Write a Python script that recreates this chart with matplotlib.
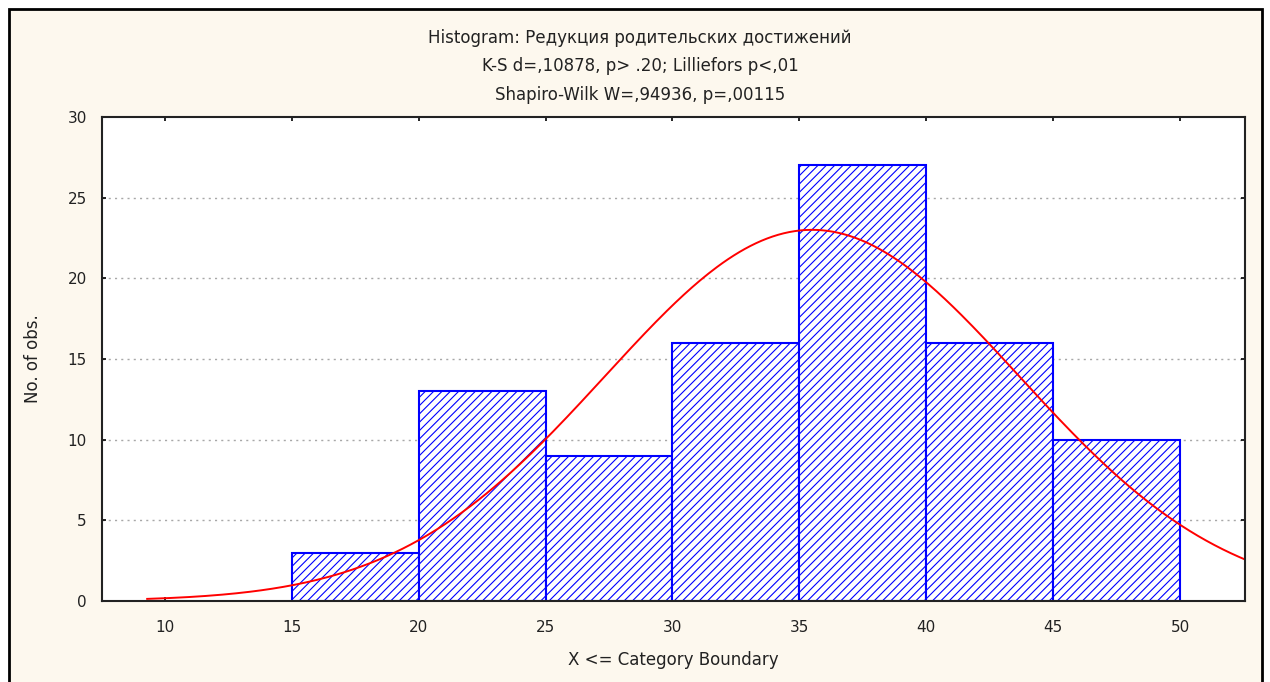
import numpy as np
import matplotlib
matplotlib.use("Agg")
import matplotlib.pyplot as plt
from matplotlib.patches import Rectangle

# ---- data ----
bin_edges = [15, 20, 25, 30, 35, 40, 45, 50]
counts = [3, 13, 9, 16, 27, 16, 10]
fit_mean = 35.5
fit_sd = 8.15
curve_start = 9.3
x_ticks = [10, 15, 20, 25, 30, 35, 40, 45, 50]
y_ticks = [0, 5, 10, 15, 20, 25, 30]
title_lines = [
    "Histogram: Редукция родительских достижений",
    "K-S d=,10878, p> .20; Lilliefors p<,01",
    "Shapiro-Wilk W=,94936, p=,00115",
]
x_label = "X <= Category Boundary"
y_label = "No. of obs."

# ---- font ----
plt.rcParams["font.family"] = ["DejaVu Sans"]
plt.rcParams["hatch.linewidth"] = 0.8
plt.rcParams["hatch.color"] = "#0000ff"

FS = 11
FS_T = 12
TXT = "#222222"
W, H = 1270, 682
fig = plt.figure(figsize=(W / 100, H / 100), dpi=100, facecolor="white")

# outer cream panel with black frame
panel = Rectangle((9 / W, -0.05), (1262 - 9) / W, 1 - 9 / H + 0.05,
                  transform=fig.transFigure, facecolor="#fdf8ee",
                  edgecolor="black", linewidth=2.0, zorder=-5)
fig.patches.append(panel)

ax = fig.add_axes([102 / W, 1 - 601 / H, (1245 - 102) / W, (601 - 117) / H], zorder=2)
ax.set_facecolor("white")

widths = np.diff(bin_edges)
ax.bar(bin_edges[:-1], counts, width=widths, align="edge",
       facecolor="white", edgecolor="#0000ff", linewidth=1.5,
       hatch="////", zorder=2)

n_total = sum(counts)
bw = widths[0]
xs = np.linspace(curve_start, 53, 400)
ys = n_total * bw * np.exp(-0.5 * ((xs - fit_mean) / fit_sd) ** 2) / (fit_sd * np.sqrt(2 * np.pi))
ax.plot(xs, ys, color="#ff0000", linewidth=1.4, zorder=3)

ax.set_xlim(7.52, 52.56)
ax.set_ylim(0, 30)
ax.set_xticks(x_ticks)
ax.set_yticks(y_ticks)
for y in y_ticks[1:-1]:
    ax.axhline(y, color="#a8a8a8", linestyle=(0, (1.5, 3)), linewidth=1.0, zorder=1)

ax.tick_params(axis="both", direction="in", length=3, width=1.2, color="black",
               labelsize=FS, labelcolor=TXT)
ax.tick_params(axis="x", top=True, pad=14)
ax.tick_params(axis="y", right=True, pad=11)
for s in ax.spines.values():
    s.set_linewidth(1.5)
    s.set_color("#222222")
    s.set_zorder(4)

ax.set_xlabel(x_label, fontsize=FS_T, color=TXT, labelpad=11)
ax.set_ylabel(y_label, fontsize=FS_T, color=TXT, labelpad=18)

for t, yp in zip(title_lines, [38, 66, 95]):
    fig.text(640 / W, 1 - yp / H, t, ha="center", va="center", fontsize=FS_T, color=TXT)

fig.savefig("out.png", dpi=100, facecolor="white")
